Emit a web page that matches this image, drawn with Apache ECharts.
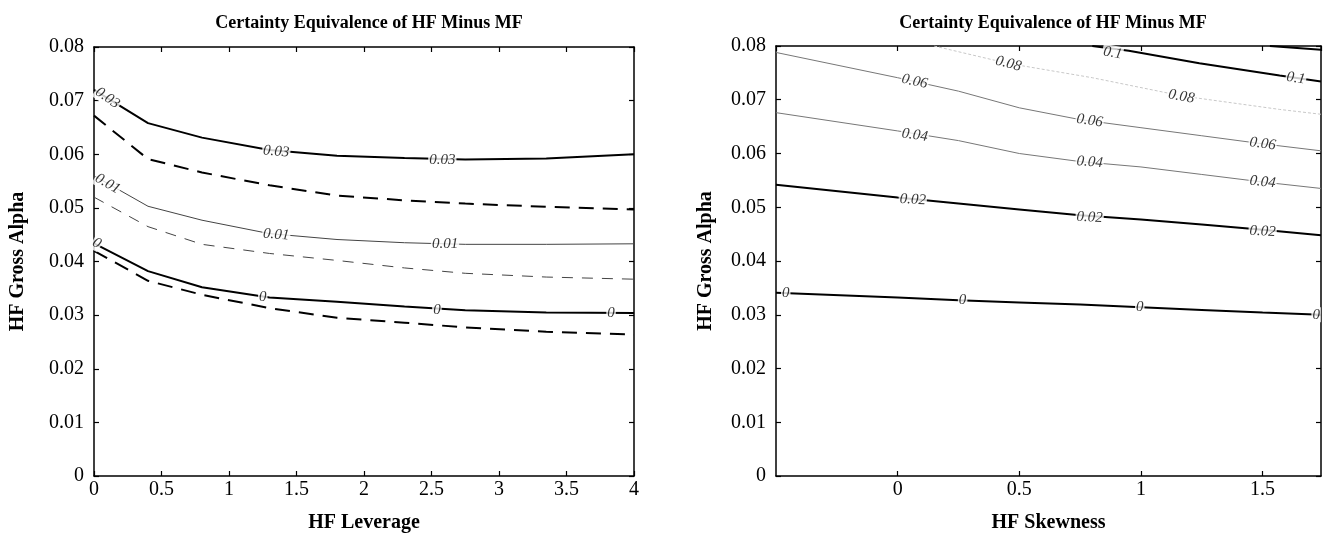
<!DOCTYPE html>
<html>
<head>
<meta charset="utf-8">
<script src="https://cdn.jsdelivr.net/npm/echarts@6/dist/echarts.min.js"></script>
<style>
html,body{margin:0;padding:0;background:#fff;}
#chart{width:1331px;height:538px;}
</style>
</head>
<body>
<div id="chart"></div>
<script>
// ---------- DATA ----------
const chartTitle = 'Certainty Equivalence of HF Minus MF';
const yName = 'HF Gross Alpha';
const leftXName = 'HF Leverage';
const rightXName = 'HF Skewness';

// Left panel: HF leverage grid
const leverageX = [0, 0.4, 0.8, 1.3, 1.8, 2.3, 2.75, 3.35, 4];
const lev003 = [0.0720, 0.0658, 0.0631, 0.0608, 0.0597, 0.0593, 0.0590, 0.0592, 0.0600];
const lev002 = [0.0672, 0.0591, 0.0566, 0.0542, 0.0523, 0.0514, 0.0508, 0.0502, 0.0497];
const lev001 = [0.0560, 0.0503, 0.0477, 0.0452, 0.0441, 0.0435, 0.0432, 0.0432, 0.0433];
const lev0005 = [0.0520, 0.0465, 0.0432, 0.0415, 0.0402, 0.0388, 0.0378, 0.0371, 0.0367];
const lev000 = [0.0434, 0.0382, 0.0352, 0.0333, 0.0325, 0.0316, 0.0309, 0.0305, 0.0304];
const levNeg = [0.0420, 0.0364, 0.0338, 0.0313, 0.0295, 0.0286, 0.0277, 0.0269, 0.0264];

// Left panel contour labels: [text, x, y, rotation]
const levLabels = [
  ['0.03', 0.10, 0.0705, -35], ['0.03', 1.35, 0.0605, -5], ['0.03', 2.58, 0.0589, 0],
  ['0.01', 0.10, 0.0545, -30], ['0.01', 1.35, 0.0450, -5], ['0.01', 2.60, 0.0432, 0],
  ['0', 0.02, 0.0434, -30], ['0', 1.25, 0.0334, 0], ['0', 2.54, 0.0310, 0], ['0', 3.83, 0.0304, 0]
];

// Right panel: HF skewness grid
const skewX = [-0.5, 0, 0.25, 0.5, 0.75, 1, 1.25, 1.5, 1.74];
const skew002 = [0.0542, 0.0518, 0.0507, 0.0496, 0.0485, 0.0477, 0.0468, 0.0458, 0.0448];
const skew004 = [0.0676, 0.0642, 0.0624, 0.0600, 0.0585, 0.0575, 0.0561, 0.0547, 0.0535];
const skew006 = [0.0788, 0.0741, 0.0716, 0.0685, 0.0663, 0.0648, 0.0633, 0.0618, 0.0605];
const skew000 = [0.0341, 0.0332, 0.0327, 0.0323, 0.0319, 0.0314, 0.0309, 0.0304, 0.0300];
const skew008X = [0.15, 0.45, 0.8, 1.17, 1.57, 1.74];
const skew008 = [0.0800, 0.0768, 0.0741, 0.0707, 0.0682, 0.0673];
const skew010X = [0.80, 0.95, 1.24, 1.57, 1.74];
const skew010 = [0.0800, 0.0791, 0.0768, 0.0745, 0.0734];
const skew012X = [1.53, 1.74];
const skew012 = [0.0800, 0.0793];

const skewLabels = [
  ['0.1', 0.884, 0.0787, -10], ['0.1', 1.637, 0.0740, -8],
  ['0.08', 0.455, 0.0767, -15], ['0.08', 1.166, 0.0706, -10],
  ['0.06', 0.07, 0.0734, -12], ['0.06', 0.789, 0.0661, -8], ['0.06', 1.50, 0.0618, -8],
  ['0.04', 0.07, 0.0634, -8], ['0.04', 0.789, 0.0584, -5], ['0.04', 1.50, 0.0547, -6],
  ['0.02', 0.062, 0.0514, -3], ['0.02', 0.789, 0.0481, -3], ['0.02', 1.50, 0.0455, -3],
  ['0', -0.46, 0.0341, 0], ['0', 0.267, 0.0327, 0], ['0', 0.995, 0.0314, 0], ['0', 1.72, 0.0300, 0]
];

// ---------- BUILD ----------
const SERIF = 'Liberation Serif';
const zip = (xs, ys) => xs.map((x, i) => [x, ys[i]]);
const fmt = v => String(+(+v).toFixed(3));

function xAx(gi, pos, min, max, name, showLabels) {
  return {
    type: 'value', gridIndex: gi, position: pos, min: min, max: max, interval: 0.5,
    name: showLabels ? name : '', nameLocation: 'middle', nameGap: 37,
    nameTextStyle: {fontFamily: SERIF, fontWeight: 'bold', fontSize: 20, color: '#000'},
    axisLine: {show: true, onZero: false, lineStyle: {color: '#000', width: 1.5}},
    axisTick: {show: true, inside: true, length: 5, lineStyle: {color: '#000', width: 1.2}},
    axisLabel: {show: showLabels, fontFamily: SERIF, fontSize: 20, color: '#000', margin: 4,
      showMinLabel: min === 0, showMaxLabel: max === 4, formatter: fmt},
    splitLine: {show: false}
  };
}
function yAx(gi, pos, name, showLabels, gap) {
  return {
    type: 'value', gridIndex: gi, position: pos, min: 0, max: 0.08, interval: 0.01,
    name: showLabels ? name : '', nameLocation: 'middle', nameGap: gap,
    nameTextStyle: {fontFamily: SERIF, fontWeight: 'bold', fontSize: 20, color: '#000'},
    axisLine: {show: true, onZero: false, lineStyle: {color: '#000', width: 1.5}},
    axisTick: {show: true, inside: true, length: 5, lineStyle: {color: '#000', width: 1.2}},
    axisLabel: {show: showLabels, fontFamily: SERIF, fontSize: 20, color: '#000', margin: 10, formatter: fmt},
    splitLine: {show: false}
  };
}
function line(xi, yi, data, color, width, type) {
  return {
    type: 'line', xAxisIndex: xi, yAxisIndex: yi, data: data, showSymbol: false, symbol: 'none',
    lineStyle: {color: color, width: width, type: type || 'solid'}, z: 2, silent: true, clip: true
  };
}
function labels(xi, yi, arr) {
  return {
    type: 'scatter', xAxisIndex: xi, yAxisIndex: yi, symbolSize: 1, z: 5, silent: true,
    itemStyle: {color: 'rgba(0,0,0,0)'},
    data: arr.map(a => ({value: [a[1], a[2]], name: a[0], label: {rotate: a[3]}})),
    label: {show: true, position: 'inside', formatter: p => p.name, fontFamily: SERIF,
      fontStyle: 'italic', fontSize: 15, color: '#000', backgroundColor: '#fff', padding: [0, 1]}
  };
}

const option = {
  backgroundColor: '#fff',
  animation: false,
  title: [
    {text: chartTitle, left: 364, top: 9, textAlign: 'center',
     textStyle: {fontFamily: SERIF, fontWeight: 'bold', fontSize: 18, color: '#000'}},
    {text: chartTitle, left: 1048, top: 9, textAlign: 'center',
     textStyle: {fontFamily: SERIF, fontWeight: 'bold', fontSize: 18, color: '#000'}}
  ],
  grid: [
    {left: 94, top: 47, width: 540, height: 433},
    {left: 776, top: 46, width: 545, height: 435}
  ],
  xAxis: [
    xAx(0, 'bottom', 0, 4, leftXName, true),
    xAx(0, 'top', 0, 4, '', false),
    xAx(1, 'bottom', -0.5, 1.74, rightXName, true),
    xAx(1, 'top', -0.5, 1.74, '', false)
  ],
  yAxis: [
    yAx(0, 'left', yName, true, 66),
    yAx(0, 'right', '', false, 0),
    yAx(1, 'left', yName, true, 60),
    yAx(1, 'right', '', false, 0)
  ],
  series: [
    line(0, 0, zip(leverageX, lev003), '#000', 2),
    line(0, 0, zip(leverageX, lev002), '#000', 2, [15, 9]),
    line(0, 0, zip(leverageX, lev001), '#444', 1),
    line(0, 0, zip(leverageX, lev0005), '#444', 1, [11, 9]),
    line(0, 0, zip(leverageX, lev000), '#000', 2),
    line(0, 0, zip(leverageX, levNeg), '#000', 2, [15, 9]),
    labels(0, 0, levLabels),
    line(2, 2, zip(skewX, skew002), '#000', 2),
    line(2, 2, zip(skewX, skew004), '#777', 1),
    line(2, 2, zip(skewX, skew006), '#777', 1),
    line(2, 2, zip(skewX, skew000), '#000', 2),
    line(2, 2, zip(skew008X, skew008), '#c8c8c8', 1, [3, 2]),
    line(2, 2, zip(skew010X, skew010), '#000', 2),
    line(2, 2, zip(skew012X, skew012), '#000', 2),
    labels(2, 2, skewLabels)
  ]
};

const chart = echarts.init(document.getElementById('chart'), null, {renderer: 'canvas'});
chart.setOption(option);
</script>
</body>
</html>
